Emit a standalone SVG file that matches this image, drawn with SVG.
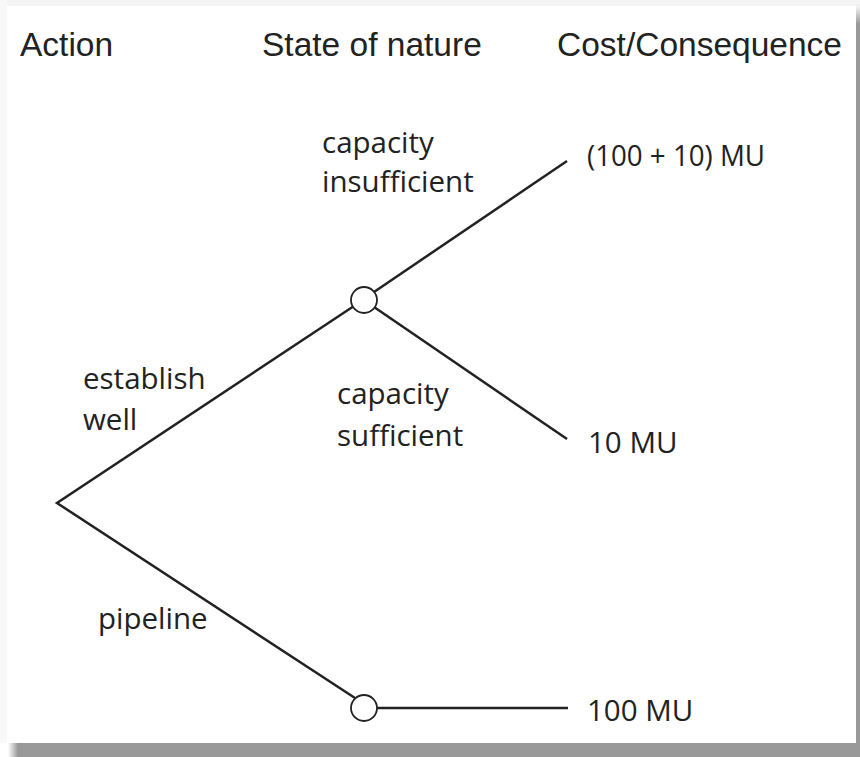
<svg xmlns="http://www.w3.org/2000/svg" width="860" height="757" viewBox="0 0 860 757">
<defs>
<linearGradient id="shb" x1="0" y1="0" x2="1" y2="0">
<stop offset="0" stop-color="#999" stop-opacity="0"/>
<stop offset="1" stop-color="#999"/>
</linearGradient>
<linearGradient id="shr" x1="0" y1="0" x2="0" y2="1">
<stop offset="0" stop-color="#999" stop-opacity="0"/>
<stop offset="1" stop-color="#999"/>
</linearGradient>
<style>
.hdr{font-family:"Liberation Sans",Arial,sans-serif;font-size:33.5px;fill:#222}
.lbl{font-family:"Open Sans","Noto Sans",sans-serif;font-size:29.5px;fill:#222}
.edge{stroke:#222;stroke-width:2.5;fill:none}
.chance{fill:#fff;stroke:#222;stroke-width:1.8}
</style>
</defs>
<rect x="0" y="0" width="860" height="757" fill="#fff"/>
<rect x="0" y="0" width="860" height="6" fill="#f4f4f4"/>
<rect x="0" y="0" width="7" height="743" fill="#f8f8f8"/>
<rect x="856" y="4" width="4" height="20" fill="url(#shr)"/>
<rect x="856" y="24" width="4" height="733" fill="#999"/>
<rect x="8" y="743" width="10" height="14" fill="url(#shb)"/>
<rect x="18" y="743" width="842" height="14" fill="#999"/>
<rect x="7" y="6" width="849" height="737" fill="#fff"/>

<g id="headers">
<text class="hdr" x="20" y="56">Action</text>
<text class="hdr" x="262" y="56">State of nature</text>
<text class="hdr" x="557" y="56">Cost/Consequence</text>
</g>

<g id="connectors">
<polyline class="edge" points="354,306 57,503 355,698"/>
<line class="edge" x1="374" y1="292" x2="567" y2="161"/>
<line class="edge" x1="374" y1="307" x2="567" y2="439"/>
<line class="edge" x1="377" y1="708" x2="568" y2="708"/>
</g>

<g id="root-decision">
<text class="lbl" x="83" y="389">establish</text>
<text class="lbl" x="83" y="430">well</text>
<text class="lbl" x="98" y="629">pipeline</text>
</g>

<g id="chance-well">
<circle class="chance" cx="364" cy="300" r="13"/>
<text class="lbl" x="322" y="153">capacity</text>
<text class="lbl" x="322" y="192">insufficient</text>
<text class="lbl" x="337" y="404">capacity</text>
<text class="lbl" x="337" y="446">sufficient</text>
</g>

<g id="chance-pipeline">
<circle class="chance" cx="364" cy="708" r="13"/>
</g>

<g id="outcome-insufficient"><text class="lbl" x="587" y="166" textLength="178" lengthAdjust="spacingAndGlyphs">(100 + 10) MU</text></g>
<g id="outcome-sufficient"><text class="lbl" x="588" y="453">10 MU</text></g>
<g id="outcome-pipeline"><text class="lbl" x="587" y="721">100 MU</text></g>
</svg>
